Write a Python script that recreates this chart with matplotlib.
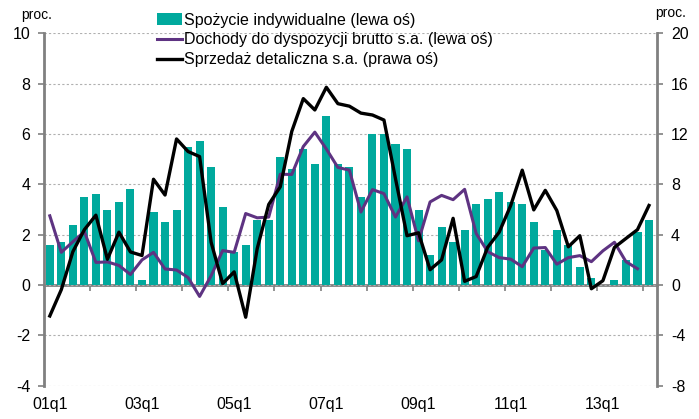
import matplotlib
matplotlib.use("Agg")
import matplotlib.pyplot as plt
import numpy as np

plt.rcParams['font.family'] = ['Liberation Sans', 'DejaVu Sans']
plt.rcParams['axes.unicode_minus'] = False

# kwartały 01q1 .. 14q1
quarters = [f"{y:02d}q{q}" for y in range(1, 15) for q in range(1, 5)][:53]

# Spożycie indywidualne (lewa oś)
spozycie = [1.6, 1.7, 2.4, 3.5, 3.6, 3.0, 3.3, 3.8, 0.2, 2.9, 2.5, 3.0, 5.5,
            5.7, 4.7, 3.1, 1.3, 1.6, 2.6, 2.6, 5.1, 4.6, 5.4, 4.8, 6.7, 4.8,
            4.7, 3.5, 6.0, 6.0, 5.6, 5.4, 3.0, 1.2, 2.3, 1.7, 2.2, 3.2, 3.4,
            3.7, 3.3, 3.2, 2.5, 1.4, 2.2, 1.6, 0.7, 0.3, 0.0, 0.2, 1.0, 2.1,
            2.6]

# Dochody do dyspozycji brutto s.a. (lewa oś)
dochody = [2.75, 1.3, 1.72, 2.12, 0.9, 0.92, 0.78, 0.42, 1.0, 1.3, 0.64, 0.6,
           0.3, -0.45, 0.37, 1.37, 1.3, 2.84, 2.67, 2.7, 4.4, 4.39, 5.5, 6.07,
           5.4, 4.67, 4.56, 2.9, 3.79, 3.63, 2.7, 3.5, 1.76, 3.3, 3.56, 3.39,
           3.8, 2.05, 1.33, 1.09, 1.03, 0.73, 1.47, 1.49, 0.83, 1.09, 1.17,
           0.93, 1.36, 1.7, 0.93, 0.65]

# Sprzedaż detaliczna s.a. (prawa oś)
sprzedaz = [-2.45, -0.36, 2.65, 4.4, 5.55, 2.05, 4.2, 2.63, 2.35, 8.4, 7.15,
            11.6, 10.6, 10.2, 3.4, 0.12, 1.05, -2.55, 2.9, 6.4, 7.8, 12.2,
            14.8, 13.9, 15.7, 14.4, 14.2, 13.65, 13.5, 13.1, 8.45, 3.92, 4.15,
            1.22, 2.0, 5.3, 0.3, 0.68, 3.0, 4.2, 6.32, 9.12, 5.97, 7.52, 5.92,
            3.04, 3.92, -0.29, 0.35, 2.99, 3.7, 4.4, 6.32]

left_ticks = [-4, -2, 0, 2, 4, 6, 8, 10]
right_ticks = [-8, -4, 0, 4, 8, 12, 16, 20]

teal = '#00a99d'
purple = '#5e3382'
grey = '#808080'

fig = plt.figure(figsize=(6.99, 4.19), dpi=100)
ax = fig.add_axes([0.063, 0.079, 0.877, 0.842])
ax2 = ax.twinx()

x = np.arange(len(quarters))
b = ax.bar(x, spozycie, width=0.7, color=teal, label='Spożycie indywidualne (lewa oś)', zorder=2)
l1, = ax.plot(np.arange(len(dochody)), dochody, color=purple, lw=2.2,
              label='Dochody do dyspozycji brutto s.a. (lewa oś)', zorder=3)
l2, = ax2.plot(x, sprzedaz, color='black', lw=2.4,
               label='Sprzedaż detaliczna s.a. (prawa oś)', zorder=4)

ax.set_ylim(-4, 10)
ax2.set_ylim(-8, 20)
ax.set_xlim(-0.5, 52.7)
ax.set_yticks(left_ticks)
ax2.set_yticks(right_ticks)
ax.set_axisbelow(True)
ax.yaxis.grid(True, color='#b0b0b0', linestyle=(0, (2, 2)), linewidth=0.8)

ax.set_xticks(x[::8])
ax.set_xticklabels(quarters[::8])
ax.tick_params(axis='x', length=0, pad=8, labelsize=11.5)
ax.tick_params(axis='y', direction='out', length=4, color=grey, width=1.2, labelsize=11.5, pad=6)
ax2.tick_params(axis='y', direction='out', length=4, color=grey, width=1.2, labelsize=11.5, pad=6)

for s in ['top', 'bottom', 'right']:
    ax.spines[s].set_visible(False)
for s in ['top', 'bottom', 'left']:
    ax2.spines[s].set_visible(False)
ax.spines['left'].set_color(grey)
ax.spines['left'].set_linewidth(2)
ax2.spines['right'].set_color(grey)
ax2.spines['right'].set_linewidth(2)

# linia zera z kreskami między latami
zero = ax.secondary_xaxis(4 / 14)
zero.set_xticks(np.arange(3.5, 52, 4))
zero.tick_params(axis='x', direction='out', length=4, color=grey, width=1.2, labelbottom=False)
zero.spines['bottom'].set_color(grey)
zero.spines['bottom'].set_linewidth(2)

fig.text(0.03, 0.965, 'proc.', fontsize=10, ha='left', va='center')
fig.text(0.937, 0.97, 'proc.', fontsize=10, ha='left', va='center')

fig.legend(handles=[b, l1, l2], loc='upper left', bbox_to_anchor=(0.215, 0.985),
           frameon=False, fontsize=11.5, handlelength=1.6, handletextpad=0.1,
           labelspacing=0.3, borderaxespad=0)

fig.savefig('out.png', dpi=100)
